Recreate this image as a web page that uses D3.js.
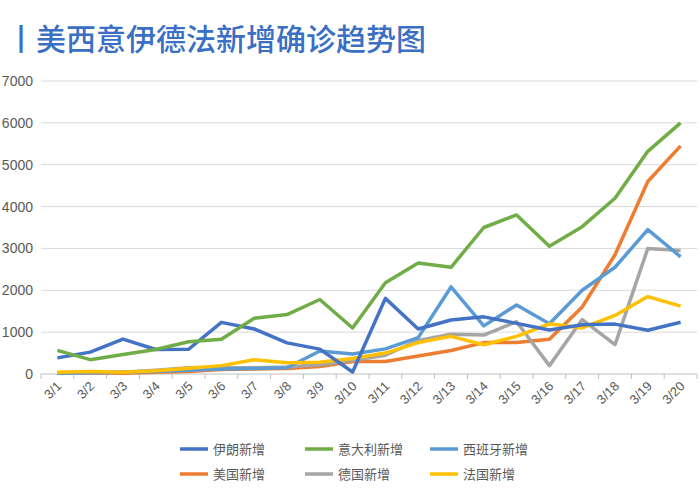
<!DOCTYPE html>
<html><head><meta charset="utf-8">
<script src="https://cdn.jsdelivr.net/npm/d3@7"></script>
<style>body{margin:0;background:#fff;font-family:"Noto Sans CJK SC","Noto Sans",sans-serif}</style>
</head><body><svg id="c" width="700" height="500"></svg>
<script>
const dates=["3/1","3/2","3/3","3/4","3/5","3/6","3/7","3/8","3/9","3/10","3/11","3/12","3/13","3/14","3/15","3/16","3/17","3/18","3/19","3/20"];
const yTicks=[0,1000,2000,3000,4000,5000,6000,7000];
const iran=[385,523,835,586,591,1234,1076,743,595,49,1807,1075,1289,1365,1209,1053,1178,1192,1046,1237];
const italy=[566,342,466,587,769,830,1330,1420,1780,1100,2180,2650,2550,3500,3800,3050,3520,4200,5320,6000];
const spain=[20,30,40,60,90,120,130,150,550,480,600,870,2080,1150,1650,1200,2000,2550,3450,2800];
const usa=[20,30,20,40,60,110,120,130,180,300,300,430,560,750,750,830,1600,2850,4600,5450];
const germany=[30,40,40,90,150,150,150,170,220,330,450,800,950,930,1250,200,1300,700,3000,2950];
const france=[40,60,40,80,140,200,340,270,280,370,500,750,900,700,900,1200,1100,1400,1850,1620];
const names=["伊朗新增","意大利新增","西班牙新增","美国新增","德国新增","法国新增"];
const colors=["#4472c4","#70ad47","#5b9bd5","#ed7d31","#a5a5a5","#ffc000"];
const series=[iran,italy,spain,usa,germany,france];
const svg=d3.select("#c");
svg.append("text").attr("x",6).attr("y",50).attr("fill","#3a6fc4").attr("font-size",30).attr("font-weight",500).text("丨美西意伊德法新增确诊趋势图");
const x=d3.scaleBand().domain(dates).range([41,697]);
const y=d3.scaleLinear().domain([0,7000]).range([374,81]);
const g=svg.append("g");
g.selectAll("line.grid").data(yTicks).join("line").attr("x1",41).attr("x2",697)
 .attr("y1",d=>y(d)).attr("y2",d=>y(d)).attr("stroke",(d)=>d===0?"#bfbfbf":"#d9d9d9").attr("stroke-width",1);
g.selectAll("text.yl").data(yTicks).join("text").attr("x",33).attr("y",d=>y(d)+5).attr("text-anchor","end")
 .attr("fill","#595959").attr("font-size",14).attr("font-family","Liberation Sans, Arial").text(d=>d);
g.selectAll("line.tk").data(d3.range(21)).join("line").attr("x1",d=>41+d*x.bandwidth()).attr("x2",d=>41+d*x.bandwidth())
 .attr("y1",374).attr("y2",379).attr("stroke","#bfbfbf");
g.selectAll("text.xl").data(dates).join("text")
 .attr("transform",d=>`translate(${x(d)+x.bandwidth()/2+5},${387}) rotate(-45)`).attr("text-anchor","end")
 .attr("fill","#595959").attr("font-size",13).attr("font-family","Liberation Sans, Arial").text(d=>d);
const line=d3.line().x((d,i)=>x(dates[i])+x.bandwidth()/2).y(d=>y(d));
[3,4,2,5,0,1].forEach(k=>{
  svg.append("path").attr("d",line(series[k])).attr("fill","none").attr("stroke",colors[k]).attr("stroke-width",3.5).attr("stroke-linejoin","round");
});
const lx=[180,305,430], ly=[449,474];
names.forEach((n,i)=>{
  const gx=lx[i%3], gy=ly[Math.floor(i/3)];
  svg.append("line").attr("x1",gx).attr("x2",gx+28).attr("y1",gy).attr("y2",gy).attr("stroke",colors[i]).attr("stroke-width",3.5);
  svg.append("text").attr("x",gx+33).attr("y",gy+5).attr("font-size",13).attr("fill","#595959").text(n);
});
</script></body></html>
